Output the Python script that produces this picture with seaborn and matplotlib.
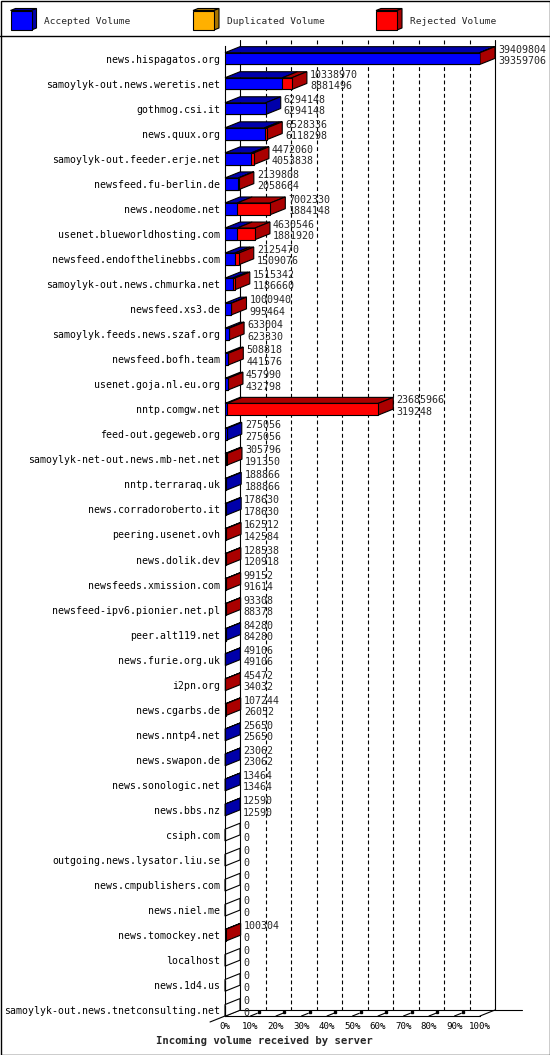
import numpy as np
import pandas as pd
import matplotlib
matplotlib.use("Agg")
import matplotlib.pyplot as plt
import seaborn as sns
from matplotlib.patches import Polygon, Rectangle

hosts = [
    "news.hispagatos.org", "samoylyk-out.news.weretis.net", "gothmog.csi.it",
    "news.quux.org", "samoylyk-out.feeder.erje.net", "newsfeed.fu-berlin.de",
    "news.neodome.net", "usenet.blueworldhosting.com", "newsfeed.endofthelinebbs.com",
    "samoylyk-out.news.chmurka.net", "newsfeed.xs3.de", "samoylyk.feeds.news.szaf.org",
    "newsfeed.bofh.team", "usenet.goja.nl.eu.org", "nntp.comgw.net",
    "feed-out.gegeweb.org", "samoylyk-net-out.news.mb-net.net", "nntp.terraraq.uk",
    "news.corradoroberto.it", "peering.usenet.ovh", "news.dolik.dev",
    "newsfeeds.xmission.com", "newsfeed-ipv6.pionier.net.pl", "peer.alt119.net",
    "news.furie.org.uk", "i2pn.org", "news.cgarbs.de", "news.nntp4.net",
    "news.swapon.de", "news.sonologic.net", "news.bbs.nz", "csiph.com",
    "outgoing.news.lysator.liu.se", "news.cmpublishers.com", "news.niel.me",
    "news.tomockey.net", "localhost", "news.1d4.us",
    "samoylyk-out.news.tnetconsulting.net",
]
total_vol = [
    39409804, 10338970, 6294148, 6528336, 4472060, 2139808, 7002330, 4630546,
    2125470, 1515342, 1000940, 633004, 508818, 457990, 23685966, 275056,
    305796, 188866, 178630, 162512, 128538, 99152, 93308, 84280, 49106,
    45472, 107244, 25650, 23062, 13464, 12590, 0, 0, 0, 0, 100304, 0, 0, 0,
]
accepted_vol = [
    39359706, 8881496, 6294148, 6118298, 4053838, 2058664, 1884148, 1881920,
    1509076, 1186660, 995464, 623330, 441576, 432798, 319248, 275056,
    191350, 188866, 178630, 142584, 120918, 91614, 88378, 84280, 49106,
    34032, 26052, 25650, 23062, 13464, 12590, 0, 0, 0, 0, 0, 0, 0, 0,
]
legend_names = ["Accepted Volume", "Duplicated Volume", "Rejected Volume"]

BLUE, BLUE_D = "#0000FF", "#0000AA"
ORANGE, ORANGE_D = "#FFB000", "#AA7600"
RED, RED_D = "#FF0000", "#AA0000"

df = pd.DataFrame({"host": hosts, "total": total_vol, "accepted": accepted_vol})
peak = df["total"].max()
df["total_pct"] = df["total"] / peak * 100
df["acc_pct"] = df["accepted"] / peak * 100

sns.set_style("white")
plt.rcParams["font.family"] = ["DejaVu Sans Mono"]

W, H = 550, 1055
ROW_PX = 25.05
fig = plt.figure(figsize=(W / 100, H / 100), dpi=100)

# background layer: frame, legend, axis title (pixel coordinates)
bg = fig.add_axes([0, 0, 1, 1], zorder=-1)
bg.set_xlim(0, W)
bg.set_ylim(H, 0)
bg.axis("off")
bg.add_patch(Rectangle((0.5, 0.5), W - 1, H - 1, fill=False, ec="black", lw=1))
bg.plot([0, W], [35.5, 35.5], color="black", lw=1)
for x0, name, fc, dc in zip([10.5, 193, 376], legend_names,
                            [BLUE, ORANGE, RED], [BLUE_D, ORANGE_D, RED_D]):
    w, h, ddx, ddy = 21, 19.5, 5, -2
    bg.add_patch(Polygon([(x0, 10.5), (x0 + w, 10.5), (x0 + w + ddx, 10.5 + ddy), (x0 + ddx, 10.5 + ddy)],
                         fc=dc, ec="black", lw=0.8))
    bg.add_patch(Polygon([(x0 + w, 10.5), (x0 + w + ddx, 10.5 + ddy), (x0 + w + ddx, 10.5 + h + ddy), (x0 + w, 10.5 + h)],
                         fc=dc, ec="black", lw=0.8))
    bg.add_patch(Rectangle((x0, 10.5), w, h, fc=fc, ec="black", lw=0.8))
    bg.text(x0 + 34, 21, name, fontsize=6.8, va="center", ha="left")
bg.text(264, 1041, "Incoming volume received by server", fontsize=7.7,
        fontweight="bold", ha="center", va="center")

# main axes: front plane, x in percent, y in row index
ax = fig.add_axes([225 / W, (H - 1016) / H, 255 / W, 970 / H])
ax.patch.set_alpha(0)
BAR_H = 0.467
sns.barplot(data=df, x="total_pct", y="host", orient="h", color=RED, saturation=1,
            width=BAR_H, edgecolor="black", linewidth=0.8, errorbar=None, ax=ax, zorder=4)
sns.barplot(data=df, x="acc_pct", y="host", orient="h", color=BLUE, saturation=1,
            width=BAR_H, edgecolor="black", linewidth=0.8, errorbar=None, ax=ax, zorder=5)

YB = -0.5 + 970 / ROW_PX
ax.set_xlim(0, 100)
ax.set_ylim(YB, -0.5)
DX = 15 / 255 * 100
DY = -6 / ROW_PX

# back wall and grid
for p in range(0, 101, 10):
    ls = "-" if p in (0, 100) else (0, (3.5, 2.5))
    ax.plot([p + DX, p + DX], [-0.5 + DY, YB + DY], color="black", lw=0.8, ls=ls,
            zorder=1, clip_on=False)
# floor
ax.plot([DX, 100 + DX + 27 / 2.55], [YB + DY, YB + DY], color="black", lw=0.8, zorder=1, clip_on=False)
ax.plot([-DX, DX], [YB - DY, YB + DY], color="black", lw=0.8, zorder=1, clip_on=False)
ax.plot([100, 100 + DX], [YB, YB + DY], color="black", lw=0.8, zorder=1, clip_on=False)
for p in range(10, 100, 10):
    ax.plot([p, p + DX * 0.45], [YB, YB + DY * 0.45], color="black", lw=0.8, zorder=2, clip_on=False)
    ax.plot([p + DX * 0.55], [YB + DY * 0.6], marker="s", ms=1.8, color="black", zorder=2, clip_on=False)

# 3d faces and value labels
for i, r in df.iterrows():
    t, a = r["total_pct"], r["acc_pct"]
    top, bot = i - BAR_H / 2, i + BAR_H / 2
    for x0, x1, c in [(0, a, BLUE_D), (a, t, RED_D)]:
        if x1 > x0:
            ax.add_patch(Polygon([(x0, top), (x1, top), (x1 + DX, top + DY), (x0 + DX, top + DY)],
                                 fc=c, ec="black", lw=0.8, zorder=3, clip_on=False))
    side = RED_D if t > a else (BLUE_D if a > 0 else "white")
    ax.add_patch(Polygon([(t, top), (t + DX, top + DY), (t + DX, bot + DY), (t, bot)],
                         fc=side, ec="black", lw=0.8, zorder=3, clip_on=False))
    ax.text(t + DX + 1.2, i - 0.36, f"{r['total']}", fontsize=7.2, va="center", ha="left", clip_on=False)
    ax.text(t + DX + 1.2, i + 0.10, f"{r['accepted']}", fontsize=7.2, va="center", ha="left", clip_on=False)

sns.despine(ax=ax, top=True, right=True)
for s in ("left", "bottom"):
    ax.spines[s].set_linewidth(0.8)
    ax.spines[s].set_color("black")
ax.set_xticks(np.arange(0, 101, 10))
ax.set_xticklabels([f"{p}%" for p in range(0, 101, 10)])
ax.tick_params(axis="x", length=3, width=0.8, pad=1.5, labelsize=6.6, colors="black")
ax.tick_params(axis="y", length=0, pad=3.6, labelsize=7.1, colors="black")
ax.set_xlabel("")
ax.set_ylabel("")

fig.savefig("out.png", dpi=100)
